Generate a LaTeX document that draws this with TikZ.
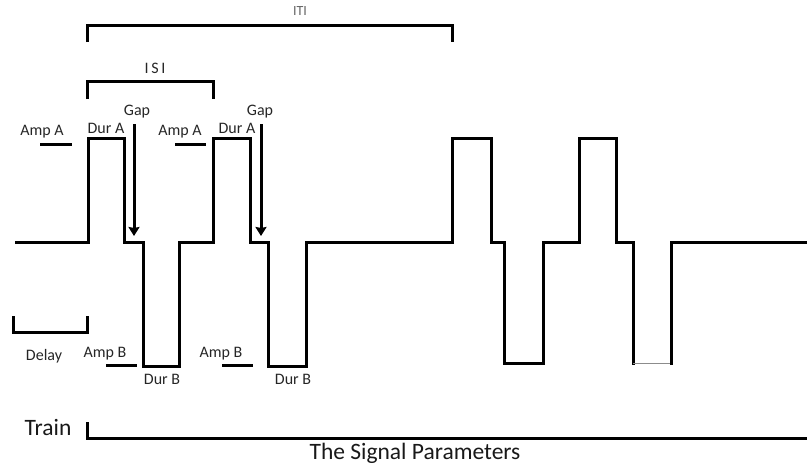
\documentclass[tikz,border=0pt]{standalone}
\usepackage{fontspec}
\setmainfont{Carlito}
\usetikzlibrary{arrows.meta}
\begin{document}
\begin{tikzpicture}[x=1pt,y=-1pt,
  sig/.style={line width=3pt,line join=miter,line cap=butt},
  lbl/.style={font=\fontsize{16}{17}\selectfont,anchor=base,inner sep=0pt,text=black!85},
  big/.style={font=\fontsize{23.5}{25}\selectfont,anchor=base,inner sep=0pt,text=black!90},
  brk/.style={line width=3pt},
  gaparrow/.style={line width=3pt,-{Stealth[length=9pt,width=11pt,inset=1pt]}}]
\useasboundingbox (0,0) rectangle (807,467);
% signal
\draw[sig] (15,242) -- (88,242) -- (88,138) -- (124,138) -- (124,242) -- (143,242) -- (143,366) -- (179,366) -- (179,242)
  -- (213,242) -- (213,138) -- (250,138) -- (250,242) -- (268,242) -- (268,366) -- (306,366) -- (306,242)
  -- (452,242) -- (452,138) -- (491,138) -- (491,242) -- (504,242) -- (504,363) -- (543,363) -- (543,242)
  -- (579,242) -- (579,138) -- (616,138) -- (616,242) -- (633,242) -- (633,364.5);
\draw[line width=1.2pt,black!45] (633,363.5) -- (671,363.5);
\draw[sig] (671,364.5) -- (671,242) -- (807,242);
% brackets
\node[lbl,font=\fontsize{14}{15}\selectfont,text=black!60] (iti) at (300,15) {ITI};
\draw[brk] (87,42) -- (87,25) -- (452,25) -- (452,42);
\node[lbl] (isi) at (155,73) {I\,S\,I};
\draw[brk] (87,99) -- (87,81) -- (213,81) -- (213,99);
\draw[brk] (13,316) -- (13,332) -- (87,332) -- (87,316);
\node[lbl] (delay) at (44,360) {Delay};
% amp / dur labels
\node[lbl] (ampa1) at (42,135) {Amp A};
\draw[brk] (40,144) -- (72,144);
\node[lbl] (dura1) at (106,133) {Dur A};
\node[lbl] (ampa2) at (180,135) {Amp A};
\draw[brk] (175,144) -- (206,144);
\node[lbl] (dura2) at (237,133) {Dur A};
\node[lbl] (ampb1) at (105,357) {Amp B};
\draw[brk] (106,365) -- (137,365);
\node[lbl] (durb1) at (162,384) {Dur B};
\node[lbl] (ampb2) at (221,357) {Amp B};
\draw[brk] (222,365) -- (253,365);
\node[lbl] (durb2) at (293,384) {Dur B};
% gaps
\node[lbl] (gap1) at (137,115) {Gap};
\node[lbl] (gap2) at (260,115) {Gap};
\coordinate (g1) at (134,236);
\coordinate (g2) at (261,236);
\draw[gaparrow] (134,124) -- (g1);
\draw[gaparrow] (261,124) -- (g2);
% train
\node[big] (train) at (48,435) {Train};
\draw[brk] (87,422) -- (87,438) -- (807,438);
\node[big] (caption) at (415,459) {The Signal Parameters};
\end{tikzpicture}
\end{document}
